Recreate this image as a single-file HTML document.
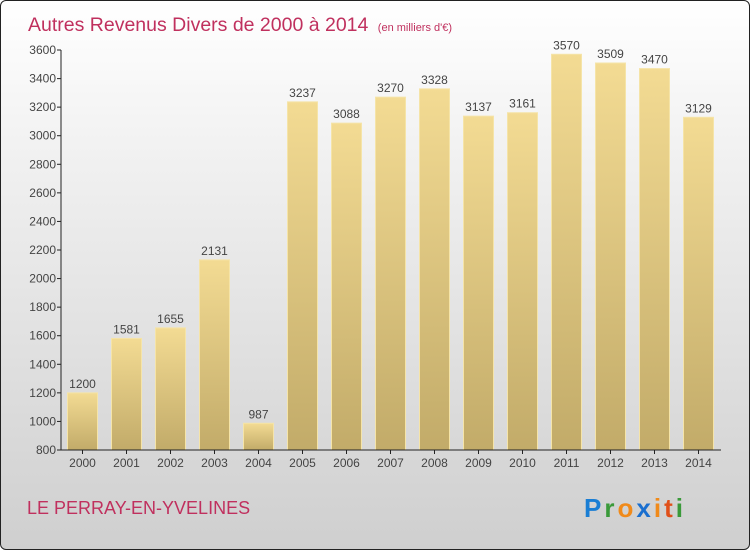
<!DOCTYPE html>
<html><head><meta charset="utf-8"><style>
body{margin:0}
#c{width:748px;height:548px;border:1px solid #222;border-radius:6px;background:linear-gradient(#ffffff,#f0f0f0 30%,#cfcfcf);position:relative;overflow:hidden;font-family:"Liberation Sans",sans-serif}
</style></head><body>
<div id="c">
<svg id="s" width="748" height="548">
<defs><linearGradient id="g" x1="0" y1="0" x2="0" y2="1"><stop offset="0" stop-color="#f3db93"/><stop offset="1" stop-color="#c2ab69"/></linearGradient></defs>
<text x="27" y="30" font-size="19.5" fill="#c0305e">Autres Revenus Divers de 2000 à 2014 <tspan font-size="11" dx="4">(en milliers d'€)</tspan></text>
<text x="26" y="513" font-size="18" fill="#c0305e">LE PERRAY-EN-YVELINES</text>
<text x="583" y="516" font-size="26" font-weight="bold" letter-spacing="3"><tspan fill="#1a7ed4">P</tspan><tspan fill="#3a9a3a">r</tspan><tspan fill="#f08a1a">o</tspan><tspan fill="#1a6fcf">x</tspan><tspan fill="#f08a1a">i</tspan><tspan fill="#e0501a">t</tspan><tspan fill="#3a9a3a">i</tspan></text>
<g id="plot"></g>
</svg></div>
<script>
const years=["2000","2001","2002","2003","2004","2005","2006","2007","2008","2009","2010","2011","2012","2013","2014"];
const values=[1200,1581,1655,2131,987,3237,3088,3270,3328,3137,3161,3570,3509,3470,3129];
const ticks=[800,1000,1200,1400,1600,1800,2000,2200,2400,2600,2800,3000,3200,3400,3600];
const ns="http://www.w3.org/2000/svg";
const g=document.getElementById('plot');
const y=v=>449-(v-800)/2800*400;
const x=i=>81.5+i*44;
function mk(t,a,txt){const e=document.createElementNS(ns,t);for(const k in a)e.setAttribute(k,a[k]);if(txt!=null)e.textContent=txt;g.appendChild(e);return e;}
values.forEach((v,i)=>{
 const r=mk('rect',{x:x(i)-15,y:y(v),width:30,height:449-y(v),fill:'url(#g)',stroke:'#f5e4a8','stroke-width':1});
 
 
 const t=mk('text',{x:x(i),y:y(v)-5,'text-anchor':'middle','font-size':12,fill:'#444'},String(v));
 
 
 const l=mk('text',{x:x(i),y:466,'text-anchor':'middle','font-size':12,fill:'#444'},years[i]);
 
 
 mk('line',{x1:x(i),x2:x(i),y1:449,y2:453,stroke:'#222'});
});
ticks.forEach(v=>{
 mk('line',{x1:56,x2:60,y1:y(v),y2:y(v),stroke:'#222'});
 const t=mk('text',{x:55,y:y(v)+4,'text-anchor':'end','font-size':12,fill:'#444'},String(v));
 
 
});
const ya=mk('line',{x1:60,x2:60,y1:49,y2:449,stroke:'#222'});


const xa=mk('line',{x1:60,x2:720,y1:449,y2:449,stroke:'#222'});


</script>
</body></html>
